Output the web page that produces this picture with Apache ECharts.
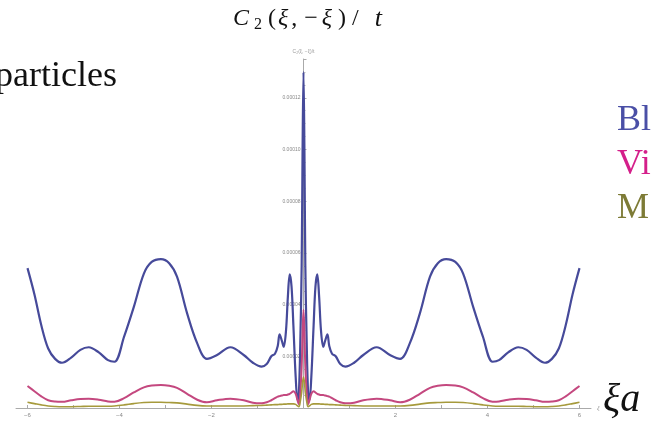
<!DOCTYPE html>
<html>
<head>
<meta charset="utf-8">
<script src="https://cdn.jsdelivr.net/npm/echarts@6/dist/echarts.min.js"></script>
<style>
  html, body { margin: 0; padding: 0; background: #fff; }
  #chart { width: 652px; height: 423px; }
</style>
</head>
<body>
<div id="chart"></div>
<script>
// values, y in units of 1e-5
const SCALE = 1e-5
const xs = [
  -6, -5.85, -5.7, -5.55, -5.4, -5.25, -5.05, -4.85, -4.67, -4.45, -4.25, -4.11,
  -3.9, -3.69, -3.47, -3.3, -3.1, -2.92, -2.75, -2.53, -2.31, -2.1, -1.88, -1.59,
  -1.3, -1.1, -0.91, -0.8, -0.7, -0.62, -0.56, -0.52, -0.47, -0.43, -0.38, -0.34,
  -0.3, -0.26, -0.22, -0.17, -0.13, -0.1, -0.07, -0.04, -0.02, 0,
  0.02, 0.04, 0.07, 0.1, 0.13, 0.17, 0.22, 0.26, 0.3, 0.34, 0.38, 0.43,
  0.47, 0.52, 0.56, 0.62, 0.7, 0.8, 0.91, 1.1, 1.3, 1.59, 1.88, 2.1,
  2.31, 2.53, 2.75, 2.92, 3.1, 3.3, 3.47, 3.69, 3.9, 4.11, 4.25, 4.45,
  4.67, 4.85, 5.05, 5.25, 5.4, 5.55, 5.7, 5.85, 6
]
const blueVals = [
  5.41, 4.4, 3.2, 2.3, 1.9, 1.75, 1.95, 2.25, 2.35, 2.15, 1.85, 1.79,
  2.76, 3.9, 5.2, 5.65, 5.76, 5.6, 5.08, 3.66, 2.5, 1.9, 2.05, 2.35,
  2.05, 1.75, 1.6, 1.7, 2.0, 2.1, 2.4, 2.85, 2.6, 2.37, 3.0, 4.3,
  5.17, 4.7, 3.2, 1.2, 0.3, 0.6, 2.5, 5.5, 10, 13,
  10, 5.5, 2.5, 0.6, 0.3, 1.2, 3.2, 4.7, 5.17, 4.3, 3.0, 2.37,
  2.6, 2.85, 2.4, 2.1, 2.0, 1.7, 1.6, 1.75, 2.05, 2.35, 2.05, 1.9,
  2.5, 3.66, 5.08, 5.6, 5.76, 5.65, 5.2, 3.9, 2.76, 1.79, 1.85, 2.15,
  2.35, 2.25, 1.95, 1.75, 1.9, 2.3, 3.2, 4.4, 5.41
]
const pinkVals = [
  0.85, 0.65, 0.45, 0.3, 0.25, 0.24, 0.3, 0.35, 0.36, 0.32, 0.25, 0.24,
  0.38, 0.6, 0.8, 0.87, 0.89, 0.86, 0.78, 0.55, 0.32, 0.22, 0.3, 0.36,
  0.3, 0.2, 0.18, 0.22, 0.3, 0.38, 0.44, 0.46, 0.48, 0.5, 0.5, 0.52,
  0.55, 0.6, 0.65, 0.55, 0.3, 0.15, 0.6, 1.6, 2.9, 3.8,
  2.9, 1.6, 0.6, 0.15, 0.3, 0.55, 0.65, 0.6, 0.55, 0.52, 0.5, 0.5,
  0.48, 0.46, 0.44, 0.38, 0.3, 0.22, 0.18, 0.2, 0.3, 0.36, 0.3, 0.22,
  0.32, 0.55, 0.78, 0.86, 0.89, 0.87, 0.8, 0.6, 0.38, 0.24, 0.25, 0.32,
  0.36, 0.35, 0.3, 0.24, 0.25, 0.3, 0.45, 0.65, 0.85
]
const oliveVals = [
  0.22, 0.17, 0.12, 0.08, 0.06, 0.05, 0.05, 0.06, 0.07, 0.07, 0.07, 0.08,
  0.12, 0.17, 0.21, 0.22, 0.22, 0.21, 0.2, 0.15, 0.1, 0.08, 0.08, 0.08,
  0.08, 0.09, 0.1, 0.11, 0.12, 0.13, 0.13, 0.14, 0.14, 0.15, 0.15, 0.16,
  0.16, 0.16, 0.16, 0.14, 0.08, 0.05, 0.25, 0.6, 1.0, 1.2,
  1.0, 0.6, 0.25, 0.05, 0.08, 0.14, 0.16, 0.16, 0.16, 0.16, 0.15, 0.15,
  0.14, 0.14, 0.13, 0.13, 0.12, 0.11, 0.1, 0.09, 0.08, 0.08, 0.08, 0.08,
  0.1, 0.15, 0.2, 0.21, 0.22, 0.22, 0.21, 0.17, 0.12, 0.08, 0.07, 0.07,
  0.07, 0.06, 0.05, 0.05, 0.06, 0.08, 0.12, 0.17, 0.22
]
const xTickVals = [-6, -4, -2, 2, 4, 6]
const xMinorVals = [-5, -3, -1, 1, 3, 5]
const legendWords = ['Bl', 'Vi', 'M']
const lineColors = ['#464a9a', '#c4487f', '#a69a3c']
const legendColors = ['#4a4fa6', '#d41f8a', '#7d7b36']

const serif = '"Liberation Serif", "DejaVu Serif", serif'
const toPairs = vals => xs.map((x, i) => [x, vals[i] * SCALE])

// plot box: x from -6.25 to 6.25, so x = 0 sits half way
const gridLeft = 16
const gridWidth = 575

// title pieces, with the wide TeX spacing
const tt = (italic, pl, pr) => ({
  fontFamily: serif, fontSize: 24, fontStyle: italic ? 'italic' : 'normal',
  fill: '#111', padding: [0, pr, 0, pl]
})

const chart = echarts.init(document.getElementById('chart'))
const option = {
  animation: false,
  grid: { left: gridLeft, width: gridWidth, top: 59, bottom: 15, outerBoundsMode: 'none' },
  xAxis: {
    type: 'value',
    min: -6.25,
    max: 6.25,
    name: 'ξ',
    nameGap: 6,
    nameTextStyle: { fontSize: 6, color: '#999', fontStyle: 'italic' },
    axisLine: { lineStyle: { color: '#aaa', width: 1 } },
    axisTick: {
      customValues: xTickVals.concat(xMinorVals),
      length: 3,
      inside: true,
      lineStyle: { color: '#aaa' }
    },
    axisLabel: {
      customValues: xTickVals,
      fontSize: 6,
      color: '#888',
      margin: 4,
      formatter: v => (v < 0 ? '\u2212' : '') + Math.abs(v)
    },
    splitLine: { show: false }
  },
  yAxis: {
    type: 'value',
    min: 0,
    max: 13.5 * SCALE,
    interval: 2 * SCALE,
    position: 'left',
    offset: -gridWidth / 2,
    name: 'C₂(ξ, −ξ)/t',
    nameGap: 5,
    nameTextStyle: { fontSize: 5, color: '#999' },
    axisLine: { onZero: false, lineStyle: { color: '#aaa', width: 1 } },
    axisTick: { length: 3, inside: true, lineStyle: { color: '#aaa' } },
    minorTick: { show: true, splitNumber: 4, length: 2, lineStyle: { color: '#bbb' } },
    axisLabel: {
      fontSize: 5,
      color: '#888',
      margin: 3,
      showMaxLabel: false,
      formatter: v => (v === 0 ? '' : v.toFixed(5))
    },
    splitLine: { show: false }
  },
  series: [
    { name: 'blue', data: toPairs(blueVals), lineWidth: 2.2 },
    { name: 'pink', data: toPairs(pinkVals), lineWidth: 2 },
    { name: 'olive', data: toPairs(oliveVals), lineWidth: 1.6 }
  ].map((s, i) => ({
    name: s.name,
    type: 'line',
    data: s.data,
    smooth: 0.35,
    showSymbol: false,
    lineStyle: { color: lineColors[i], width: s.lineWidth }
  })),
  graphic: [
    {
      type: 'text',
      x: 233,
      y: 19,
      style: {
        text: '{C|C}{s|2}{o|(}{x1|ξ}{c|,}{m|−}{x2|ξ}{p|)}{q|/}{t|t}',
        align: 'left',
        verticalAlign: 'middle',
        fill: '#111',
        rich: {
          C: tt(true, 0, 2),
          s: { fontFamily: serif, fontSize: 16, fill: '#111', padding: [11, 6, 0, 3] },
          o: tt(false, 0, 2),
          x1: tt(true, 0, 3),
          c: tt(false, 0, 7),
          m: tt(false, 0, 4),
          x2: tt(true, 0, 6),
          p: tt(false, 0, 6),
          q: tt(false, 0, 16),
          t: { fontFamily: serif, fontSize: 26, fontStyle: 'italic', fill: '#111' }
        }
      }
    },
    {
      type: 'text',
      x: -5,
      y: 77,
      style: {
        text: 'particles',
        font: '36px ' + serif,
        fill: '#111',
        verticalAlign: 'middle'
      }
    },
    ...legendWords.map((w, i) => ({
      type: 'text',
      x: 617,
      y: 121 + i * 44,
      style: {
        text: w,
        font: '36px ' + serif,
        fill: legendColors[i],
        verticalAlign: 'middle'
      }
    })),
    {
      type: 'text',
      x: 603,
      y: 400,
      style: {
        text: 'ξa',
        font: 'italic 40px ' + serif,
        fill: '#111',
        verticalAlign: 'middle'
      }
    }
  ]
}
chart.setOption(option)

window.addEventListener('resize', () => chart.resize())
</script>
</body>
</html>
